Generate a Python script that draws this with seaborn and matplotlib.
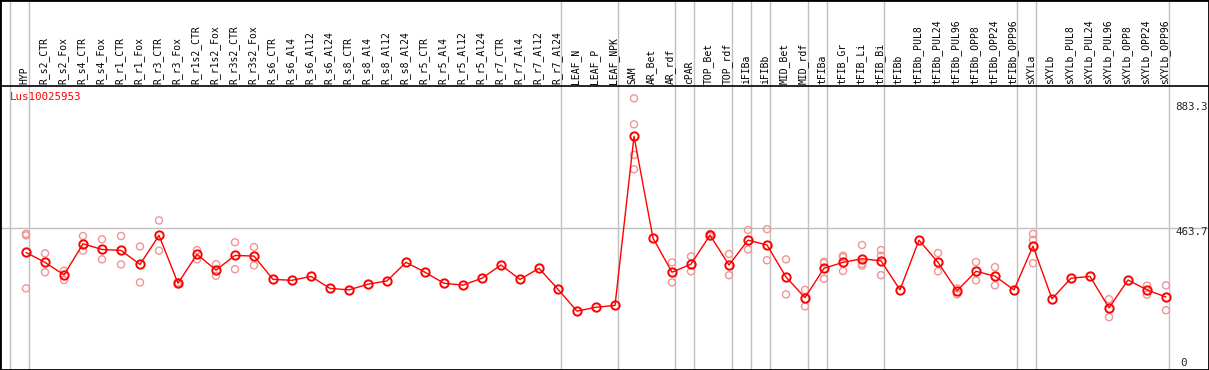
import numpy as np
import pandas as pd
import seaborn as sns
import matplotlib.pyplot as plt

samples = ["HYP", "R_s2_CTR", "R_s2_Fox", "R_s4_CTR", "R_s4_Fox", "R_r1_CTR", "R_r1_Fox",
           "R_r3_CTR", "R_r3_Fox", "R_r1s2_CTR", "R_r1s2_Fox", "R_r3s2_CTR", "R_r3s2_Fox",
           "R_s6_CTR", "R_s6_Al4", "R_s6_Al12", "R_s6_Al24", "R_s8_CTR", "R_s8_Al4",
           "R_s8_Al12", "R_s8_Al24", "R_r5_CTR", "R_r5_Al4", "R_r5_Al12", "R_r5_Al24",
           "R_r7_CTR", "R_r7_Al4", "R_r7_Al12", "R_r7_Al24", "LEAF_N", "LEAF_P", "LEAF_NPK",
           "SAM", "AR_Bet", "AR_rdf", "cPAR", "TOP_Bet", "TOP_rdf", "iFIBa", "iFIBb",
           "MID_Bet", "MID_rdf", "tFIBa", "tFIB_Gr", "tFIB_Li", "tFIB_Bi", "tFIBb",
           "tFIBb_PUL8", "tFIBb_PUL24", "tFIBb_PUL96", "tFIBb_OPP8", "tFIBb_OPP24",
           "tFIBb_OPP96", "sXYLa", "sXYLb", "sXYLb_PUL8", "sXYLb_PUL24", "sXYLb_PUL96",
           "sXYLb_OPP8", "sXYLb_OPP24", "sXYLb_OPP96"]

# mean expression per sample
means = [383, 350, 308, 412, 393, 390, 343, 440, 280, 377, 324, 373, 371,
         293, 290, 303, 263, 258, 277, 288, 350, 317, 280, 274, 297, 341, 293, 330, 260,
         187, 200, 206, 771, 431, 317, 344, 441, 341, 424, 408, 301, 232,
         330, 350, 362, 355, 258, 424, 350, 255, 320, 304, 258,
         404, 228, 297, 303, 198, 291, 258, 234]

# individual replicates (empty where they sit under the mean)
reps = [[445, 440, 263], [380, 317], [322, 291], [438, 389], [427, 360], [438, 343],
        [403, 283], [490, 389], [283, 277], [391, 360], [344, 305], [417, 327], [401, 340],
        [], [], [], [], [], [], [], [], [], [], [], [], [], [], [], [],
        [], [], [], [898, 811, 709, 661], [], [350, 283], [370, 320], [445, 437],
        [378, 307], [458, 393], [461, 357], [360, 243], [258, 203],
        [352, 348, 295], [372, 367, 321], [408, 345, 339], [391, 372, 307], [],
        [], [381, 320], [263, 243], [351, 290], [334, 273], [],
        [445, 425, 347], [], [], [], [227, 167], [], [272, 242], [273, 190]]

# last sample index of each group (-1 = left edge)
group_ends = [-1, 0, 28, 31, 34, 35, 37, 38, 39, 41, 42, 45, 52, 53, 60]

gene = "Lus10025953"
ref_value = 463.7
top_value = 883.3

mean_df = pd.DataFrame({"x": np.arange(len(samples)), "value": means})
rep_df = pd.DataFrame([(i, v) for i, r in enumerate(reps) for v in r], columns=["x", "value"])

sns.set_style("white")
plt.rcParams["font.family"] = ["DejaVu Sans Mono", "DejaVu Sans"]

fig = plt.figure(figsize=(12.09, 3.70), dpi=100)
ax = fig.add_axes([0, 0, 1, 1])

# pixel mapping: x = 26 + 19*i, value = (367.1 - py) * 3.341
ax.set_xlim(-26 / 19, 1183 / 19)
ax.set_ylim((367.1 - 370) * 3.341, 367.1 * 3.341)
ax.axis("off")

grey = "#c0c0c0"
for g in group_ends:
    ax.axvline(g + 0.18, color=grey, lw=1.0, zorder=1)
ax.axhline(ref_value, color=grey, lw=1.0, zorder=1)

# black line under the sample labels and frame round the whole picture
header_y = (367.1 - 85.5) * 3.341
ax.axhline(header_y, color="black", lw=1.2, zorder=2)
ax.plot([0, 0, 1, 1, 0], [0, 1, 1, 0, 0], transform=ax.transAxes,
        color="black", lw=2.0, clip_on=False, zorder=5)

sns.scatterplot(data=rep_df, x="x", y="value", ax=ax, marker="o", s=26,
                facecolors="none", edgecolor="#f09595", linewidth=1.0, zorder=3)
sns.lineplot(data=mean_df, x="x", y="value", ax=ax, color="red", lw=1.0,
             marker="o", ms=6, mfc="none", mec="red", mew=1.4, zorder=4)

label_y = (367.1 - 83.5) * 3.341
for i, name in enumerate(samples):
    ax.text(i - 0.08, label_y, name, rotation=90, ha="center", va="bottom",
            fontsize=7, color="black")

ax.text(-0.84, (367.1 - 97) * 3.341, gene, color="red", fontsize=7.8,
        ha="left", va="center")

right_x = (1175 - 26) / 19
ax.annotate(f"{top_value}", (right_x, top_value), xytext=(0, -3), textcoords="offset points",
            ha="left", va="center", fontsize=7.8)
ax.annotate(f"{ref_value}", (right_x, ref_value), xytext=(0, -3), textcoords="offset points",
            ha="left", va="center", fontsize=7.8)
ax.annotate("0", ((1180 - 26) / 19, 0), xytext=(0, 3), textcoords="offset points",
            ha="left", va="center", fontsize=7.8)

fig.savefig("out.png", dpi=100)
